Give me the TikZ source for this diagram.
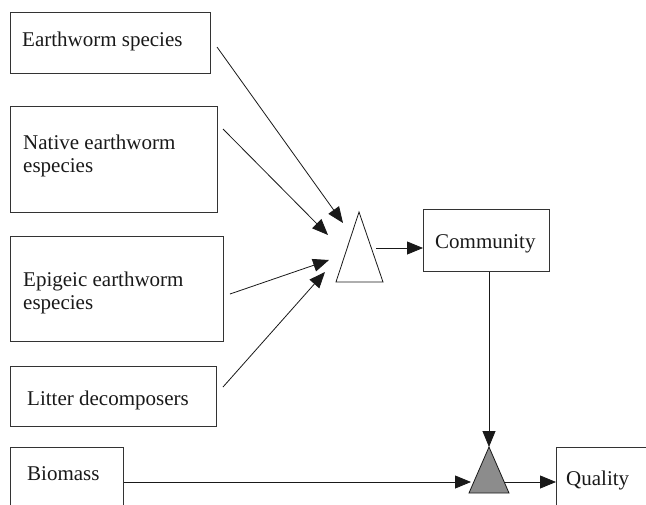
\documentclass[tikz,border=0pt]{standalone}
\usepackage{fontspec}
\setmainfont{Liberation Serif}
\usetikzlibrary{arrows.meta}
\begin{document}
\begin{tikzpicture}[x=1pt,y=-1pt,
  every node/.style={font=\fontsize{21}{23}\selectfont, text=black!90},
  box/.style={draw=black!80, line width=0.9pt, rectangle, anchor=north west, inner sep=0pt},
  lbl/.style={anchor=base west, inner sep=0pt, align=left},
  conn/.style={draw=black!90, line width=0.8pt, -{Triangle[length=16pt,width=13pt]}},
  tri/.style={draw=black!90, line width=0.8pt, line join=miter}]
\useasboundingbox (0,0) rectangle (646,504);
\clip (0,0) rectangle (646,504);
% boxes
\node[box, minimum width=200, minimum height=61] (b1) at (10,12) {};
\node[lbl] (b1t) at (22,46) {Earthworm species};
\node[box, minimum width=207, minimum height=106] (b2) at (10,106) {};
\node[lbl] (b2t) at (23,172) {Native earthworm\\especies};
\node[box, minimum width=213, minimum height=105] (b3) at (10,236) {};
\node[lbl] (b3t) at (23,309) {Epigeic earthworm\\especies};
\node[box, minimum width=206, minimum height=60] (b4) at (10,366) {};
\node[lbl] (b4t) at (27,405) {Litter decomposers};
\node[box, minimum width=113, minimum height=80] (b5) at (10,447) {};
\node[lbl] (b5t) at (27,480) {Biomass};
\node[box, minimum width=126, minimum height=62] (com) at (423,209) {};
\node[lbl] (comt) at (435,248) {Community};
\node[box, minimum width=120, minimum height=80] (qua) at (556,447) {};
\node[lbl] (quat) at (566,485) {Quality};
% triangles
\draw[tri] (359,212) coordinate (t1top) -- (383,282) coordinate (t1r) -- (336,282) coordinate (t1l) -- cycle;
\draw[tri, fill=black!45] (489,447) coordinate (t2top) -- (509,493) coordinate (t2r) -- (469,493) coordinate (t2l) -- cycle;
% connector endpoints
\coordinate (s1) at (217,47);  \coordinate (e1) at (343,223);
\coordinate (s2) at (223,129); \coordinate (e2) at (328,235);
\coordinate (s3) at (230,294); \coordinate (e3) at (329,260);
\coordinate (s4) at (223,387); \coordinate (e4) at (325,272);
\coordinate (s5) at (376,248);
\coordinate (s6) at (505,482);
\draw[conn] (s1) -- (e1);
\draw[conn] (s2) -- (e2);
\draw[conn] (s3) -- (e3);
\draw[conn] (s4) -- (e4);
\draw[conn] (s5) -- (com.west |- s5);
\draw[conn] (com.south -| t2top) -- (t2top);
\draw[conn] (b5.east |- 0,482) -- (471,482);
\draw[conn] (s6) -- (qua.west |- s6);
\end{tikzpicture}
\end{document}
